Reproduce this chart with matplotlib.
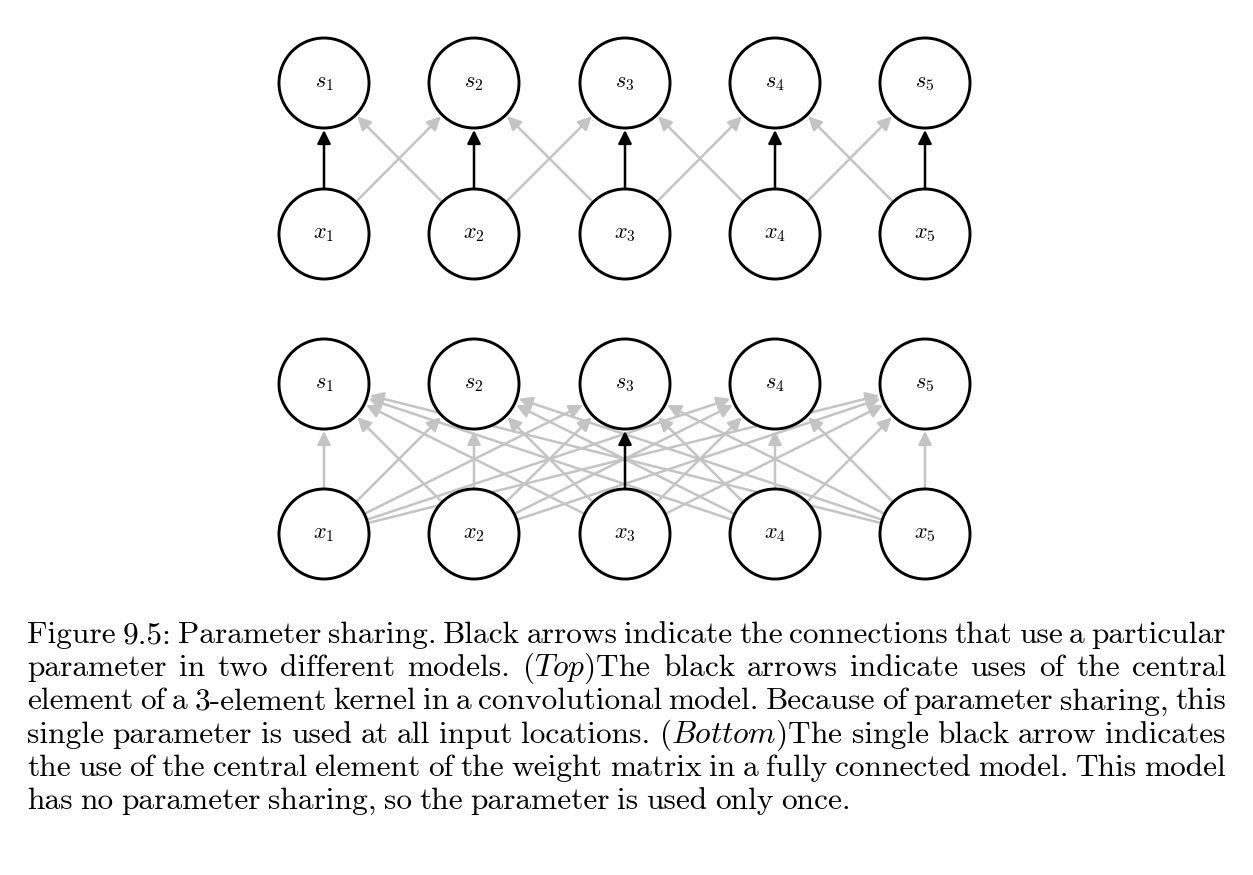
import matplotlib
matplotlib.use("Agg")
import matplotlib.pyplot as plt
from matplotlib.patches import Circle, FancyArrowPatch
import numpy as np

plt.rcParams['mathtext.fontset'] = 'cm'
plt.rcParams['font.family'] = 'cmr10'
plt.rcParams['axes.unicode_minus'] = False

# node layout (pixel coordinates of the reference)
node_x = [324, 474, 625, 775, 925]
top_s_y, top_x_y = 83, 234
bot_s_y, bot_x_y = 384, 534
radius = 45

caption = [
    "Figure 9.5: Parameter sharing. Black arrows indicate the connections that use a particular",
    "parameter in two different models. $\\mathit{(Top)}$The black arrows indicate uses of the central",
    "element of a 3-element kernel in a convolutional model. Because of parameter sharing, this",
    "single parameter is used at all input locations. $\\mathit{(Bottom)}$The single black arrow indicates",
    "the use of the central element of the weight matrix in a fully connected model. This model",
    "has no parameter sharing, so the parameter is used only once.",
]

GRAY = "#c4c4c4"

fig = plt.figure(figsize=(12.53, 8.75), dpi=100)
ax = fig.add_axes([0, 0, 1, 1])
ax.set_xlim(0, 1253)
ax.set_ylim(875, 0)
ax.axis("off")


def arrow(x0, y0, x1, y1, color, z):
    d = np.array([x1 - x0, y1 - y0], float)
    d /= np.hypot(*d)
    p0 = (x0 + d[0] * (radius + 1), y0 + d[1] * (radius + 1))
    p1 = (x1 - d[0] * (radius + 2), y1 - d[1] * (radius + 2))
    ax.add_patch(FancyArrowPatch(p0, p1, arrowstyle="-|>,head_length=5,head_width=2.5",
                                 color=color, lw=1.8, mutation_scale=1.6, zorder=z,
                                 shrinkA=0, shrinkB=0))


def nodes(ys, yx):
    for i, x in enumerate(node_x):
        for y, name in ((ys, "s"), (yx, "x")):
            ax.add_patch(Circle((x, y), radius, fc="white", ec="black", lw=2.1, zorder=3))
            ax.text(x, y, "$%s_%d$" % (name, i + 1), ha="center", va="center",
                    fontsize=16, zorder=4)


# top: convolution with 3-element kernel
for i in range(5):
    for j in (i - 1, i + 1):
        if 0 <= j < 5:
            arrow(node_x[i], top_x_y, node_x[j], top_s_y, GRAY, 1)
    arrow(node_x[i], top_x_y, node_x[i], top_s_y, "black", 2)
nodes(top_s_y, top_x_y)

# bottom: fully connected
for i in range(5):
    for j in range(5):
        if not (i == 2 and j == 2):
            arrow(node_x[i], bot_x_y, node_x[j], bot_s_y, GRAY, 1)
arrow(node_x[2], bot_x_y, node_x[2], bot_s_y, "black", 2)
nodes(bot_s_y, bot_x_y)

# justified caption
fig.canvas.draw()
renderer = fig.canvas.get_renderer()
left, right = 27, 1226
for k, line in enumerate(caption):
    y = 643 + k * 33.2
    words = line.split(" ")
    texts = [ax.text(left, y, w, fontsize=22.6, va="baseline", ha="left") for w in words]
    widths = [t.get_window_extent(renderer).width for t in texts]
    if k == len(caption) - 1:
        space = 7.5
    else:
        space = (right - left - sum(widths)) / (len(words) - 1)
    x = left
    for t, w in zip(texts, widths):
        t.set_x(x)
        x += w + space

fig.savefig("out.png", dpi=100)
